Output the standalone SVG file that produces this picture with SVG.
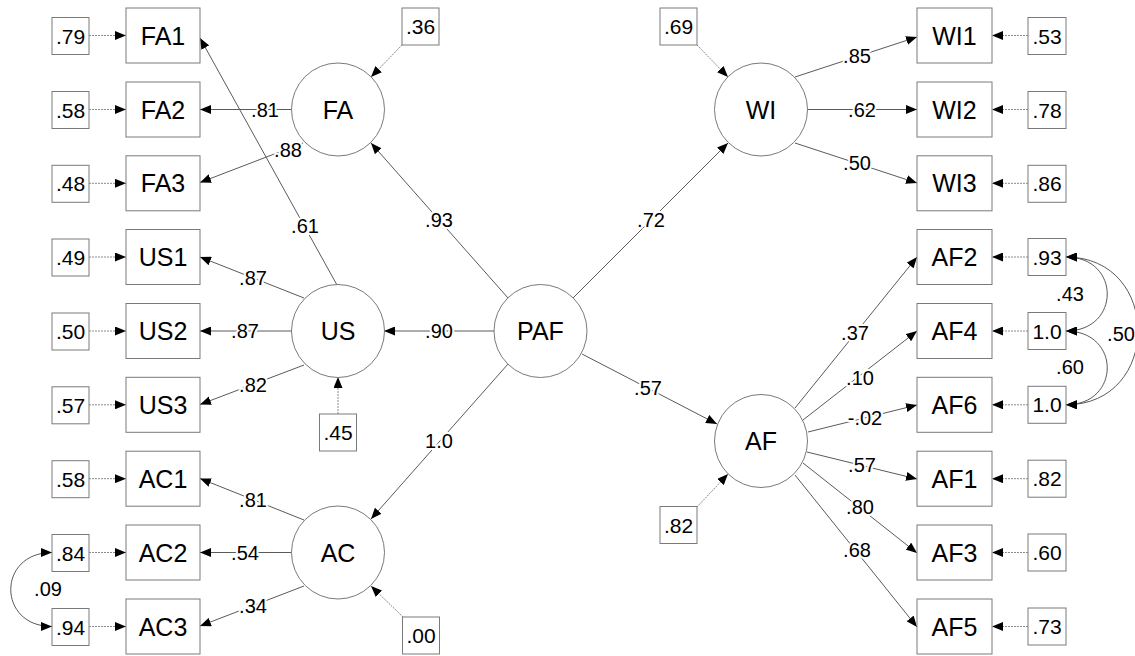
<svg xmlns="http://www.w3.org/2000/svg" width="1135" height="656" viewBox="0 0 1135 656">
  <defs>
    <marker id="arrow" markerUnits="userSpaceOnUse" markerWidth="11" markerHeight="9" viewBox="0 0 11 9" refX="11" refY="4.5" orient="auto-start-reverse">
      <path d="M0,0 L11,4.5 L0,9 z" fill="#000"/>
    </marker>
    <style>
      .box { fill: #fff; stroke: #7a7a7a; stroke-width: 1; }
      .lat { fill: #fff; stroke: #7a7a7a; stroke-width: 1; }
      .path { fill: none; stroke: #5a5a5a; stroke-width: 1; marker-end: url(#arrow); }
      .err { fill: none; stroke: #8a8a8a; stroke-width: 1; stroke-dasharray: 2 1; marker-end: url(#arrow); }
      .cov { fill: none; stroke: #5a5a5a; stroke-width: 1; marker-start: url(#arrow); marker-end: url(#arrow); }
      text { font-family: "Liberation Sans", Arial, sans-serif; fill: #000; text-anchor: middle; dominant-baseline: central; }
      .ind { font-size: 25px; }
      .lv { font-size: 25px; }
      .ev { font-size: 21px; }
      .lab { font-size: 20px; stroke: #fff; stroke-width: 4; paint-order: stroke; stroke-linejoin: round; }
    </style>
  </defs>
  <rect width="1135" height="656" fill="#fff"/>

  <!-- connectors -->
  <g id="connectors">
    <!-- loadings and structural paths -->
    <path class="path" d="M292,109.5 L200,109.5"/>
    <path class="path" d="M303,143 L200,182.5"/>
    <path class="path" d="M337,285 L200,38"/>
    <path class="path" d="M508,298 L371,143"/>
    <path class="path" d="M304,298 L200,257"/>
    <path class="path" d="M292,331 L200,331"/>
    <path class="path" d="M304,365 L200,404.5"/>
    <path class="path" d="M494,331 L384,331"/>
    <path class="path" d="M304,520 L200,478.5"/>
    <path class="path" d="M292,552.5 L200,552.5"/>
    <path class="path" d="M304,586 L200,626"/>
    <path class="path" d="M508,364 L371,519"/>
    <path class="path" d="M573,298 L728,143"/>
    <path class="path" d="M795,77 L917,37"/>
    <path class="path" d="M807,109.5 L917,109.5"/>
    <path class="path" d="M795,143 L917,183"/>
    <path class="path" d="M582,354 L717,424"/>
    <path class="path" d="M795,408 L917,257"/>
    <path class="path" d="M803,420 L917,331"/>
    <path class="path" d="M808,432 L917,405"/>
    <path class="path" d="M807,452 L917,479"/>
    <path class="path" d="M803,463 L917,553"/>
    <path class="path" d="M795,475 L917,627"/>

    <!-- error terms, left indicators -->
    <path class="err" d="M89,35.5 L126,35.5"/>
    <path class="err" d="M89,109.5 L126,109.5"/>
    <path class="err" d="M89,183.3 L126,183.3"/>
    <path class="err" d="M89,257 L126,257"/>
    <path class="err" d="M89,331 L126,331"/>
    <path class="err" d="M89,404.8 L126,404.8"/>
    <path class="err" d="M89,478.7 L126,478.7"/>
    <path class="err" d="M89,552.5 L126,552.5"/>
    <path class="err" d="M89,626.5 L126,626.5"/>
    <!-- error terms, right indicators -->
    <path class="err" d="M1028,35.5 L992,35.5"/>
    <path class="err" d="M1028,109.5 L992,109.5"/>
    <path class="err" d="M1028,183.3 L992,183.3"/>
    <path class="err" d="M1028,257 L992,257"/>
    <path class="err" d="M1028,331 L992,331"/>
    <path class="err" d="M1028,404.8 L992,404.8"/>
    <path class="err" d="M1028,478.7 L992,478.7"/>
    <path class="err" d="M1028,552.5 L992,552.5"/>
    <path class="err" d="M1028,626.5 L992,626.5"/>
    <!-- disturbances of latent factors -->
    <path class="err" d="M402,45 L371,77"/>
    <path class="err" d="M338,414 L338,377"/>
    <path class="err" d="M403,617 L371,586"/>
    <path class="err" d="M697,45 L728,77"/>
    <path class="err" d="M697,507 L728,474"/>

    <!-- error covariances -->
    <path class="cov" d="M52,552.5 C-3,552.5 -3,626.5 52,626.5"/>
    <path class="cov" d="M1066,257 C1121,257 1121,331 1066,331"/>
    <path class="cov" d="M1066,331 C1121,331 1121,404.8 1066,404.8"/>
    <path class="cov" d="M1066,257 C1162,257 1162,404.8 1066,404.8"/>

    <!-- coefficient labels -->
    <text class="lab" x="265" y="109.5">.81</text>
    <text class="lab" x="288" y="150">.88</text>
    <text class="lab" x="305" y="226">.61</text>
    <text class="lab" x="439" y="220">.93</text>
    <text class="lab" x="253" y="278">.87</text>
    <text class="lab" x="245" y="331">.87</text>
    <text class="lab" x="253" y="385">.82</text>
    <text class="lab" x="439" y="331">.90</text>
    <text class="lab" x="253" y="500">.81</text>
    <text class="lab" x="245" y="552.5">.54</text>
    <text class="lab" x="253" y="606">.34</text>
    <text class="lab" x="439" y="441">1.0</text>
    <text class="lab" x="48" y="589">.09</text>
    <text class="lab" x="651" y="220">.72</text>
    <text class="lab" x="857" y="56">.85</text>
    <text class="lab" x="862" y="110">.62</text>
    <text class="lab" x="857" y="163">.50</text>
    <text class="lab" x="648" y="388">.57</text>
    <text class="lab" x="855" y="333">.37</text>
    <text class="lab" x="860" y="378">.10</text>
    <text class="lab" x="865" y="418">-.02</text>
    <text class="lab" x="862" y="465">.57</text>
    <text class="lab" x="860" y="507">.80</text>
    <text class="lab" x="857" y="550">.68</text>
    <text class="lab" x="1070" y="294">.43</text>
    <text class="lab" x="1070" y="367">.60</text>
    <text class="lab" x="1121" y="334">.50</text>
  </g>

  <!-- latent factors -->
  <g id="PAF"><circle class="lat" cx="540.5" cy="331" r="46.5"/><text class="lv" x="540.5" y="331">PAF</text></g>
  <g id="FA"><circle class="lat" cx="338" cy="109.5" r="46.5"/><text class="lv" x="338" y="109.5">FA</text></g>
  <g id="US"><circle class="lat" cx="338" cy="331" r="46.5"/><text class="lv" x="338" y="331">US</text></g>
  <g id="AC"><circle class="lat" cx="338" cy="552.5" r="46.5"/><text class="lv" x="338" y="552.5">AC</text></g>
  <g id="WI"><circle class="lat" cx="761" cy="109.5" r="46.5"/><text class="lv" x="761" y="109.5">WI</text></g>
  <g id="AF"><circle class="lat" cx="761" cy="441" r="46.5"/><text class="lv" x="761" y="441">AF</text></g>

  <!-- disturbance values -->
  <g id="d_FA"><rect class="box" x="402" y="8" width="37" height="37"/><text class="ev" x="420.5" y="26.5">.36</text></g>
  <g id="d_US"><rect class="box" x="319.5" y="414" width="37" height="37"/><text class="ev" x="338" y="432.5">.45</text></g>
  <g id="d_AC"><rect class="box" x="402.5" y="617" width="37" height="37"/><text class="ev" x="421" y="635.5">.00</text></g>
  <g id="d_WI"><rect class="box" x="660" y="8" width="37" height="37"/><text class="ev" x="678.5" y="26.5">.69</text></g>
  <g id="d_AF"><rect class="box" x="660" y="506.5" width="37" height="37"/><text class="ev" x="678.5" y="525">.82</text></g>

  <!-- left indicators -->
  <g id="FA1"><rect class="box" x="126" y="8" width="74" height="55"/><text class="ind" x="163" y="35.5">FA1</text></g>
  <g id="FA2"><rect class="box" x="126" y="82" width="74" height="55"/><text class="ind" x="163" y="109.5">FA2</text></g>
  <g id="FA3"><rect class="box" x="126" y="155.8" width="74" height="55"/><text class="ind" x="163" y="183.3">FA3</text></g>
  <g id="US1"><rect class="box" x="126" y="229.5" width="74" height="55"/><text class="ind" x="163" y="257">US1</text></g>
  <g id="US2"><rect class="box" x="126" y="303.5" width="74" height="55"/><text class="ind" x="163" y="331">US2</text></g>
  <g id="US3"><rect class="box" x="126" y="377.3" width="74" height="55"/><text class="ind" x="163" y="404.8">US3</text></g>
  <g id="AC1"><rect class="box" x="126" y="451.2" width="74" height="55"/><text class="ind" x="163" y="478.7">AC1</text></g>
  <g id="AC2"><rect class="box" x="126" y="525" width="74" height="55"/><text class="ind" x="163" y="552.5">AC2</text></g>
  <g id="AC3"><rect class="box" x="126" y="599" width="74" height="55"/><text class="ind" x="163" y="626.5">AC3</text></g>

  <!-- left indicator errors -->
  <g id="e_FA1"><rect class="box" x="52" y="17.5" width="37" height="37"/><text class="ev" x="70.5" y="36">.79</text></g>
  <g id="e_FA2"><rect class="box" x="52" y="91.5" width="37" height="37"/><text class="ev" x="70.5" y="110">.58</text></g>
  <g id="e_FA3"><rect class="box" x="52" y="165.3" width="37" height="37"/><text class="ev" x="70.5" y="183.8">.48</text></g>
  <g id="e_US1"><rect class="box" x="52" y="239" width="37" height="37"/><text class="ev" x="70.5" y="257.5">.49</text></g>
  <g id="e_US2"><rect class="box" x="52" y="313" width="37" height="37"/><text class="ev" x="70.5" y="331.5">.50</text></g>
  <g id="e_US3"><rect class="box" x="52" y="386.8" width="37" height="37"/><text class="ev" x="70.5" y="405.3">.57</text></g>
  <g id="e_AC1"><rect class="box" x="52" y="460.7" width="37" height="37"/><text class="ev" x="70.5" y="479.2">.58</text></g>
  <g id="e_AC2"><rect class="box" x="52" y="534.5" width="37" height="37"/><text class="ev" x="70.5" y="553">.84</text></g>
  <g id="e_AC3"><rect class="box" x="52" y="608.5" width="37" height="37"/><text class="ev" x="70.5" y="627">.94</text></g>

  <!-- right indicators -->
  <g id="WI1"><rect class="box" x="917" y="8" width="75" height="55"/><text class="ind" x="954.5" y="35.5">WI1</text></g>
  <g id="WI2"><rect class="box" x="917" y="82" width="75" height="55"/><text class="ind" x="954.5" y="109.5">WI2</text></g>
  <g id="WI3"><rect class="box" x="917" y="155.8" width="75" height="55"/><text class="ind" x="954.5" y="183.3">WI3</text></g>
  <g id="AF2"><rect class="box" x="917" y="229.5" width="75" height="55"/><text class="ind" x="954.5" y="257">AF2</text></g>
  <g id="AF4"><rect class="box" x="917" y="303.5" width="75" height="55"/><text class="ind" x="954.5" y="331">AF4</text></g>
  <g id="AF6"><rect class="box" x="917" y="377.3" width="75" height="55"/><text class="ind" x="954.5" y="404.8">AF6</text></g>
  <g id="AF1"><rect class="box" x="917" y="451.2" width="75" height="55"/><text class="ind" x="954.5" y="478.7">AF1</text></g>
  <g id="AF3"><rect class="box" x="917" y="525" width="75" height="55"/><text class="ind" x="954.5" y="552.5">AF3</text></g>
  <g id="AF5"><rect class="box" x="917" y="599" width="75" height="55"/><text class="ind" x="954.5" y="626.5">AF5</text></g>

  <!-- right indicator errors -->
  <g id="e_WI1"><rect class="box" x="1028" y="17.5" width="38" height="37"/><text class="ev" x="1047" y="36">.53</text></g>
  <g id="e_WI2"><rect class="box" x="1028" y="91.5" width="38" height="37"/><text class="ev" x="1047" y="110">.78</text></g>
  <g id="e_WI3"><rect class="box" x="1028" y="165.3" width="38" height="37"/><text class="ev" x="1047" y="183.8">.86</text></g>
  <g id="e_AF2"><rect class="box" x="1028" y="238.5" width="38" height="37"/><text class="ev" x="1047" y="257">.93</text></g>
  <g id="e_AF4"><rect class="box" x="1028" y="312.5" width="38" height="37"/><text class="ev" x="1047" y="331">1.0</text></g>
  <g id="e_AF6"><rect class="box" x="1028" y="386.3" width="38" height="37"/><text class="ev" x="1047" y="404.8">1.0</text></g>
  <g id="e_AF1"><rect class="box" x="1028" y="460.2" width="38" height="37"/><text class="ev" x="1047" y="478.7">.82</text></g>
  <g id="e_AF3"><rect class="box" x="1028" y="534" width="38" height="37"/><text class="ev" x="1047" y="552.5">.60</text></g>
  <g id="e_AF5"><rect class="box" x="1028" y="608" width="38" height="37"/><text class="ev" x="1047" y="626.5">.73</text></g>
</svg>
